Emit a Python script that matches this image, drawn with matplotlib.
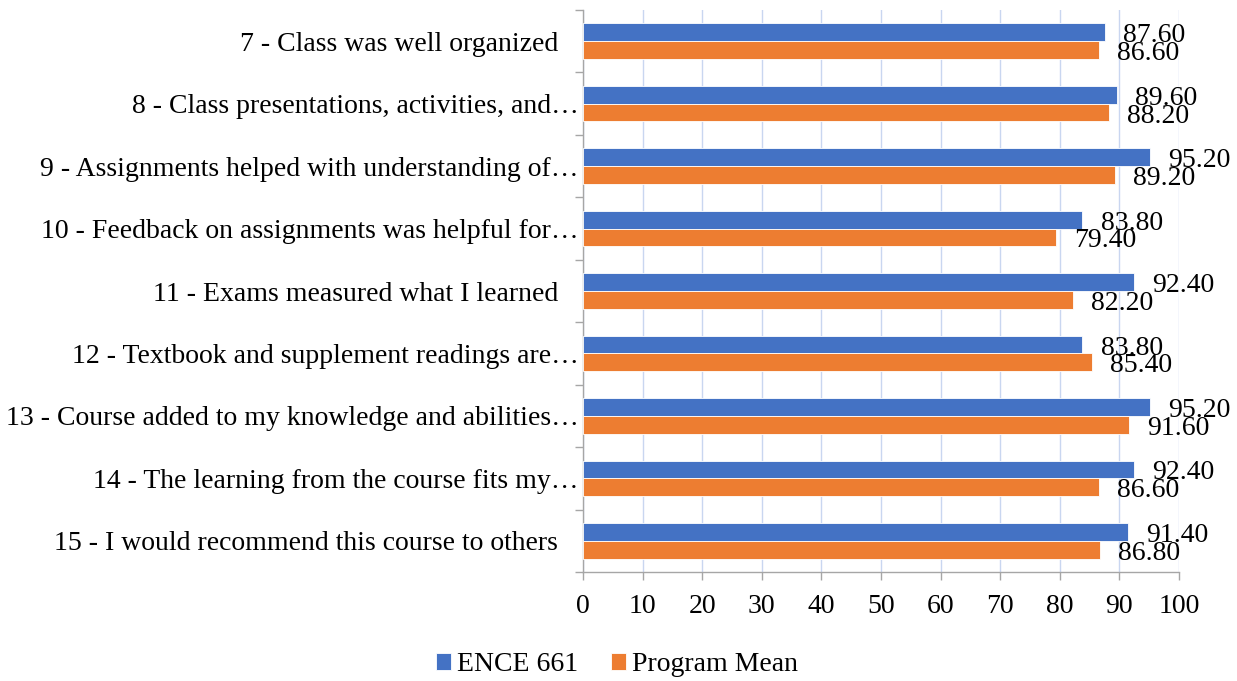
import matplotlib
matplotlib.use("Agg")
import matplotlib.pyplot as plt
import numpy as np

categories = [
    "7 - Class was well organized",
    "8 - Class presentations, activities, and\u2026",
    "9 - Assignments helped with understanding of\u2026",
    "10 - Feedback on assignments was helpful for\u2026",
    "11 - Exams measured what I learned",
    "12 - Textbook and supplement readings are\u2026",
    "13 - Course added to my knowledge and abilities\u2026",
    "14 - The learning from the course fits my\u2026",
    "15 - I would recommend this course to others",
]
ence661 = [87.6, 89.6, 95.2, 83.8, 92.4, 83.8, 95.2, 92.4, 91.4]
program_mean = [86.6, 88.2, 89.2, 79.4, 82.2, 85.4, 91.6, 86.6, 86.8]
series_names = ["ENCE 661", "Program Mean"]
xticks = [0, 10, 20, 30, 40, 50, 60, 70, 80, 90, 100]

BLUE = "#4472C4"
ORANGE = "#ED7D31"
GRID = "#C9D6F0"
SPINE = "#A6A6A6"
FONT = "Liberation Serif"

plt.rcParams["font.family"] = [FONT, "DejaVu Serif"]

fig = plt.figure(figsize=(12.37, 6.81), dpi=100)
L, R, T, B = 583, 1179, 10, 572
ax = fig.add_axes([L / 1237, 1 - B / 681, (R - L) / 1237, (B - T) / 681])

n = len(categories)
y = np.arange(n)
h = 0.285
b1 = ax.barh(y - h / 2, ence661, height=h, color=BLUE, edgecolor="white", linewidth=0.6, zorder=3)
b2 = ax.barh(y + h / 2, program_mean, height=h, color=ORANGE, edgecolor="white", linewidth=0.6, zorder=3)

for bars, vals in ((b1, ence661), (b2, program_mean)):
    for rect, v in zip(bars, vals):
        ax.annotate(f"{v:.2f}", (v, rect.get_y() + rect.get_height() / 2), xytext=(13, -2.5),
                    textcoords="offset points", va="center", ha="left", fontsize=20, zorder=4)

ax.set_ylim(n - 0.5, -0.5)
ax.set_xlim(0, 100)
ax.set_xticks(xticks)
ax.set_xticklabels([str(t) for t in xticks], fontsize=20)
ax.set_yticks(y)
# labels not ending in an ellipsis sit a little further from the axis
ax.set_yticklabels([c if c.endswith("\u2026") else c + "   " for c in categories], fontsize=20)
ax.tick_params(axis="y", length=0, pad=3)
ax.set_yticks(np.arange(n + 1) - 0.5, minor=True)
ax.tick_params(axis="y", which="minor", length=6, color=SPINE, width=1)
ax.tick_params(axis="x", length=6, color=SPINE, width=1, pad=10)

ax.grid(axis="x", color=GRID, linewidth=1, zorder=0)
ax.set_axisbelow(True)
for s in ["top", "right"]:
    ax.spines[s].set_visible(False)
for s in ["left", "bottom"]:
    ax.spines[s].set_color(SPINE)
    ax.spines[s].set_linewidth(1)

fig.legend([b1, b2], series_names, loc="center", bbox_to_anchor=(0.4988, 0.0235), ncol=2,
           frameon=False, fontsize=20, handlelength=0.55, handleheight=0.55,
           handletextpad=0.22, columnspacing=1.15, borderpad=0.1)

fig.savefig("out.png", dpi=100)
